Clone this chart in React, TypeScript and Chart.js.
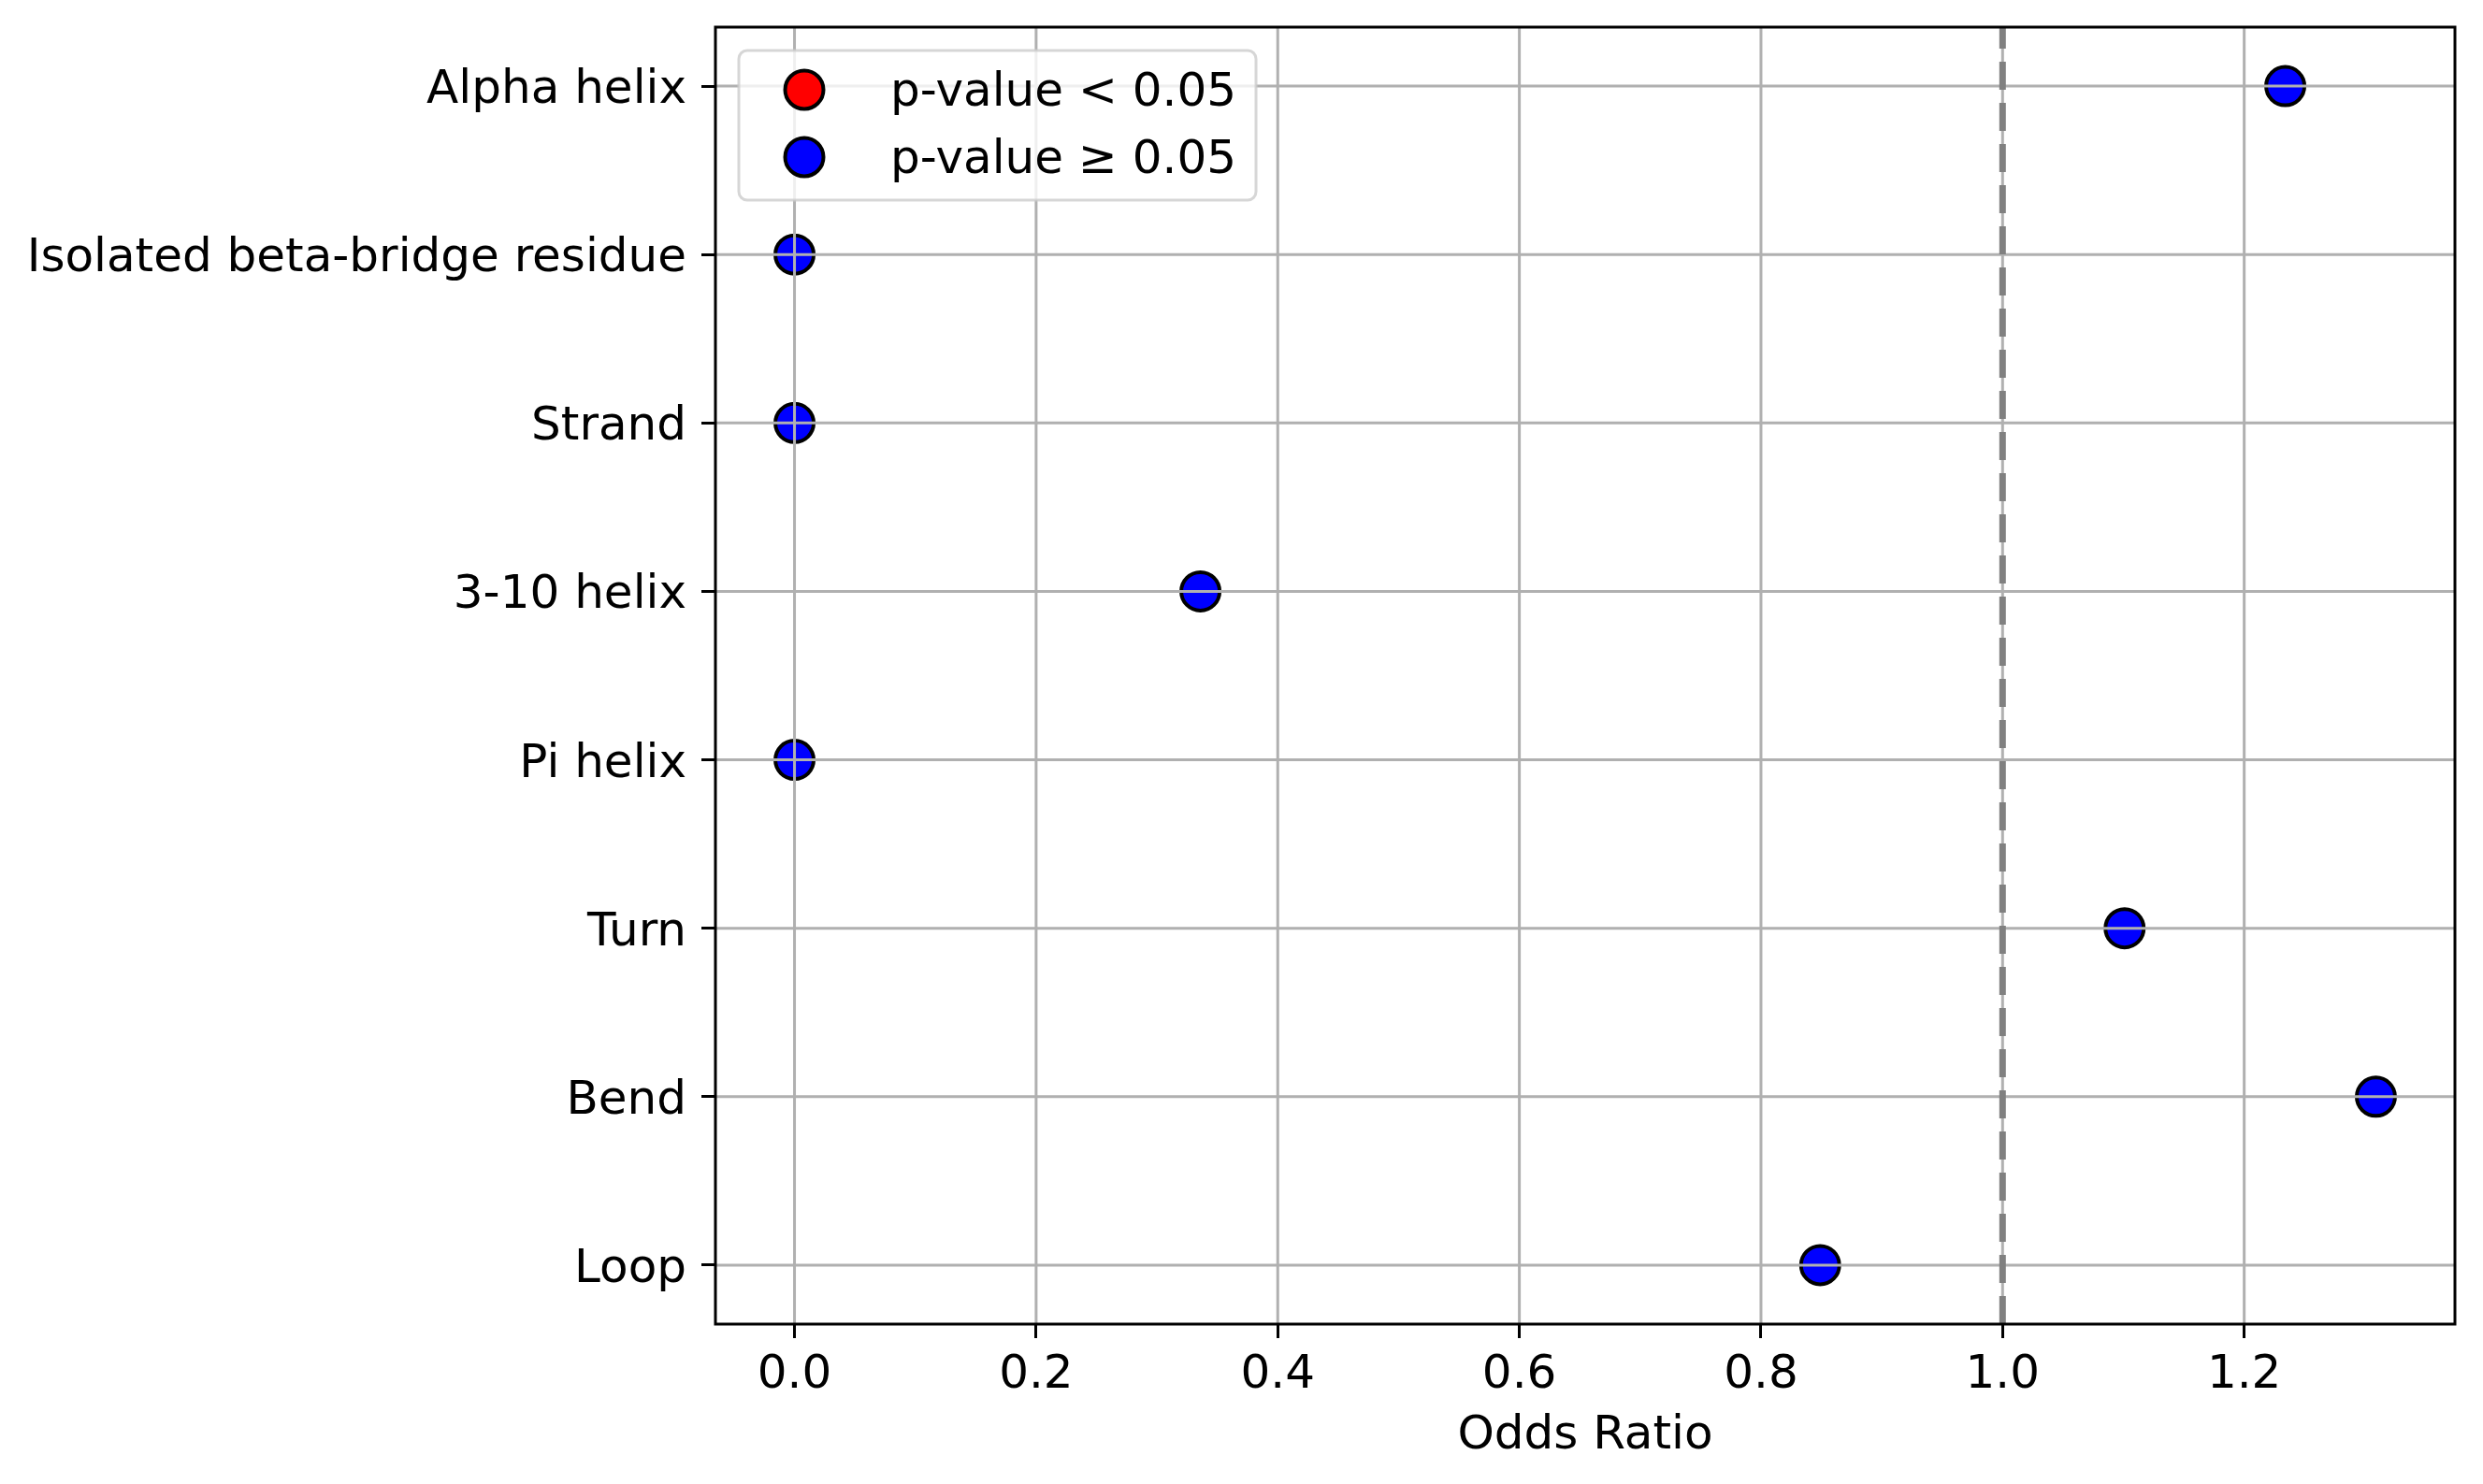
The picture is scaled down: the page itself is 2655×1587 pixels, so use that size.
import React, { useEffect, useRef } from 'react';
import { Chart, registerables } from 'chart.js';

Chart.register(...registerables);

// === Data ===
const CATEGORIES = [
  'Alpha helix',
  'Isolated beta-bridge residue',
  'Strand',
  '3-10 helix',
  'Pi helix',
  'Turn',
  'Bend',
  'Loop',
];
const ODDS_RATIOS = [1.234, 0, 0, 0.336, 0, 1.101, 1.309, 0.849];
const SIGNIFICANT = [false, false, false, false, false, false, false, false];
const X_TICKS = [0, 0.2, 0.4, 0.6, 0.8, 1.0, 1.2];
const REF_LINE = 1.0;
const LEGEND_LABELS = ['p-value < 0.05', 'p-value \u2265 0.05'];

// === Styles ===
const W = 2655;
const H = 1587;
const FONT = { family: '"DejaVu Sans", sans-serif', size: 50 };
const GRID_COLOR = '#b0b0b0';

const lo = Math.min(...ODDS_RATIOS);
const hi = Math.max(...ODDS_RATIOS);
const margin = (hi - lo) * 0.05;

const overlay = {
  id: 'overlay',
  afterDatasetsDraw(chart: any) {
    const { ctx, chartArea: a, scales } = chart;
    const xs = scales.x;
    const ys = scales.y;
    ctx.save();

    // grid, drawn over the markers like matplotlib
    ctx.strokeStyle = GRID_COLOR;
    ctx.lineWidth = 3;
    ctx.beginPath();
    X_TICKS.forEach(v => {
      const px = xs.getPixelForValue(v);
      ctx.moveTo(px, a.top);
      ctx.lineTo(px, a.bottom);
    });
    CATEGORIES.forEach((_, i) => {
      const py = ys.getPixelForValue(i);
      ctx.moveTo(a.left, py);
      ctx.lineTo(a.right, py);
    });
    ctx.stroke();

    // reference line
    const rx = xs.getPixelForValue(REF_LINE);
    ctx.strokeStyle = '#808080';
    ctx.lineWidth = 7;
    ctx.setLineDash([30, 14]);
    ctx.beginPath();
    ctx.moveTo(rx, a.bottom);
    ctx.lineTo(rx, a.top);
    ctx.stroke();
    ctx.setLineDash([]);

    // spines
    ctx.strokeStyle = '#000';
    ctx.lineWidth = 3;
    ctx.strokeRect(a.left, a.top, a.right - a.left, a.bottom - a.top);

    // legend
    ctx.font = `${FONT.size}px ${FONT.family}`;
    const datasets = chart.data.datasets;
    const textW = Math.max(...datasets.map((d: any) => ctx.measureText(d.label).width));
    const bx = a.left + 25;
    const by = a.top + 25;
    const bw = 163 + textW + 20;
    const bh = 160;
    ctx.beginPath();
    ctx.roundRect(bx, by, bw, bh, 9);
    ctx.fillStyle = 'rgba(255,255,255,0.8)';
    ctx.fill();
    ctx.strokeStyle = 'rgba(204,204,204,0.8)';
    ctx.lineWidth = 3;
    ctx.stroke();

    datasets.forEach((d: any, i: number) => {
      const cy = by + 42 + i * 72;
      ctx.beginPath();
      ctx.arc(bx + 70, cy, 20.5, 0, Math.PI * 2);
      ctx.fillStyle = d.backgroundColor;
      ctx.fill();
      ctx.strokeStyle = '#000';
      ctx.lineWidth = 4;
      ctx.stroke();
      ctx.fillStyle = '#000';
      ctx.textAlign = 'left';
      ctx.textBaseline = 'middle';
      ctx.fillText(d.label, bx + 162, cy + 4);
    });

    ctx.restore();
  },
};

const App: React.FC = () => {
  const canvasRef = useRef<HTMLCanvasElement>(null);

  useEffect(() => {
    document.body.style.margin = '0';
    if (!canvasRef.current) return;

    const points = ODDS_RATIOS.map((v, i) => ({ x: v, y: i, sig: SIGNIFICANT[i] }));
    const pointStyle = { pointRadius: 20.5, borderWidth: 4, borderColor: '#000', pointHoverRadius: 20.5 };

    const chart = new Chart(canvasRef.current, {
      type: 'scatter',
      data: {
        datasets: [
          {
            label: LEGEND_LABELS[0],
            data: points.filter(p => p.sig).map(p => ({ x: p.x, y: p.y })),
            backgroundColor: '#ff0000',
            ...pointStyle,
          },
          {
            label: LEGEND_LABELS[1],
            data: points.filter(p => !p.sig).map(p => ({ x: p.x, y: p.y })),
            backgroundColor: '#0000ff',
            ...pointStyle,
          },
        ],
      },
      options: {
        animation: false,
        responsive: true,
        maintainAspectRatio: false,
        devicePixelRatio: 1,
        layout: { padding: { top: 29, right: 30, left: 0, bottom: 0 } },
        plugins: { legend: { display: false }, tooltip: { enabled: false } },
        scales: {
          x: {
            type: 'linear',
            position: 'bottom',
            min: lo - margin,
            max: hi + margin,
            afterBuildTicks: (s: any) => {
              s.ticks = X_TICKS.map(v => ({ value: v }));
            },
            afterFit: (s: any) => {
              s.height = 171;
              s.paddingLeft = 0;
              s.paddingRight = 0;
            },
            grid: { drawOnChartArea: false, tickLength: 15, tickWidth: 3, tickColor: '#000' },
            border: { display: false },
            ticks: {
              font: FONT,
              color: '#000',
              padding: 10,
              maxRotation: 0,
              autoSkip: false,
              callback: (v: any) => Number(v).toFixed(1),
            },
            title: {
              display: true,
              text: 'Odds Ratio',
              font: FONT,
              color: '#000',
              padding: { top: 0, bottom: 21 },
            },
          },
          y: {
            type: 'linear',
            reverse: true,
            min: -0.35,
            max: CATEGORIES.length - 1 + 0.35,
            afterBuildTicks: (s: any) => {
              s.ticks = CATEGORIES.map((_, i) => ({ value: i }));
            },
            afterFit: (s: any) => {
              s.width = 765;
              s.paddingTop = 0;
              s.paddingBottom = 0;
            },
            grid: { drawOnChartArea: false, tickLength: 15, tickWidth: 3, tickColor: '#000' },
            border: { display: false },
            ticks: {
              font: FONT,
              color: '#000',
              padding: 16,
              labelOffset: 5,
              autoSkip: false,
              callback: (v: any) => CATEGORIES[Math.round(Number(v))] ?? '',
            },
          },
        },
      },
      plugins: [overlay],
    });

    return () => {
      chart.destroy();
    };
  }, []);

  return (
    <div style={{ position: 'relative', width: W, height: H, background: '#fff' }}>
      <canvas ref={canvasRef} />
    </div>
  );
};

export default App;
